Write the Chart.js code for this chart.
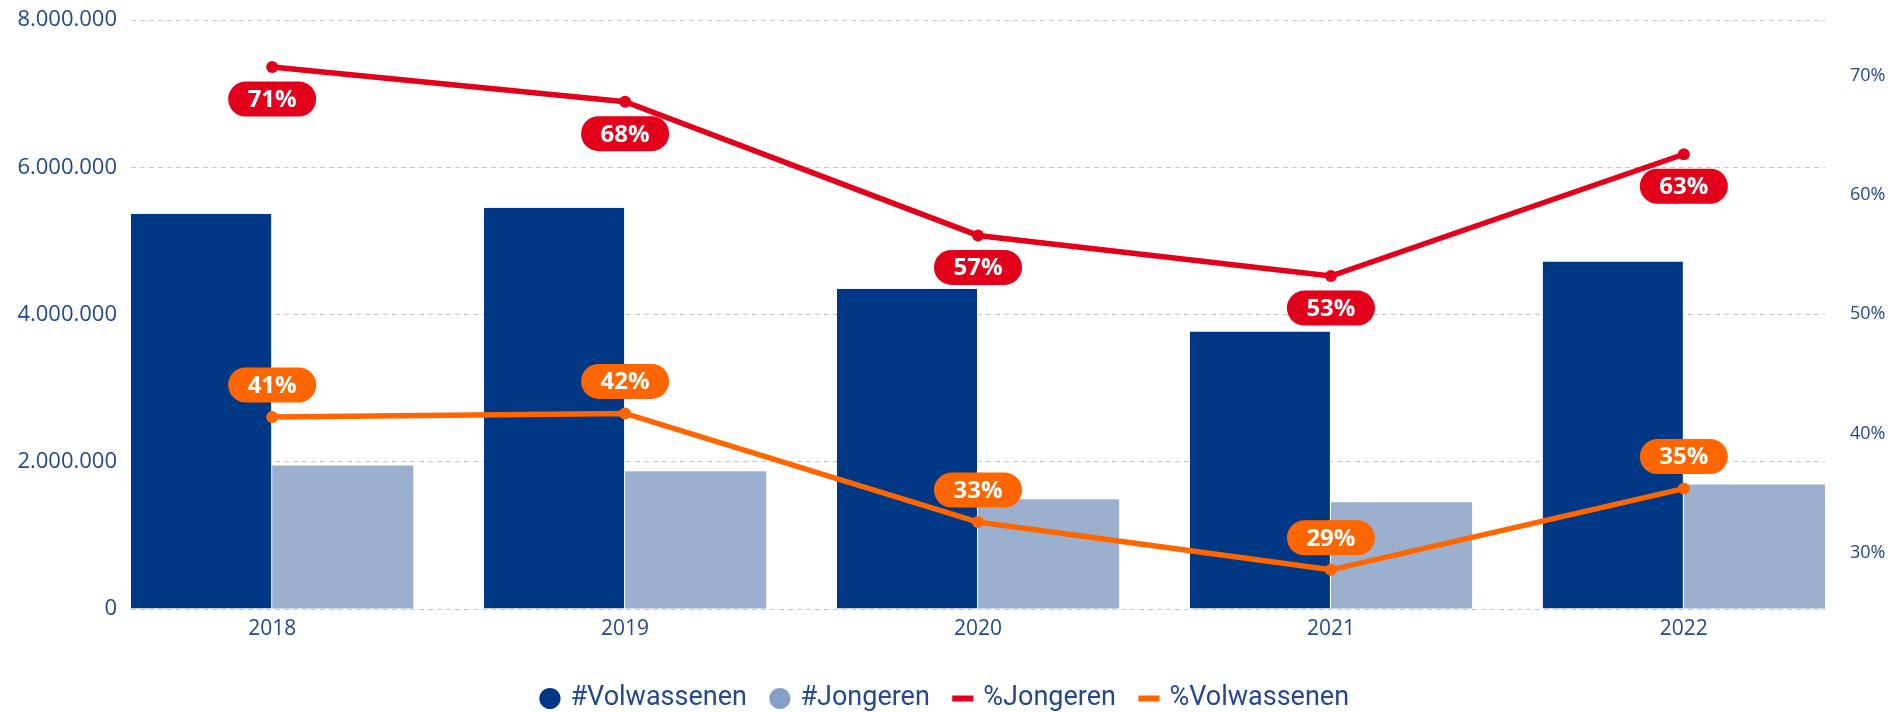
<!DOCTYPE html>
<html>
<head>
<meta charset="utf-8">
<title>Volwassenen en jongeren</title>
<script src="https://cdn.jsdelivr.net/npm/chart.js@4.4.0/dist/chart.umd.min.js"></script>
<style>
  html, body { margin: 0; padding: 0; background: #fff; }
  canvas { display: block; }
</style>
</head>
<body>
<canvas id="chart" width="1892" height="712"></canvas>
<script>
// data
var years = [2018, 2019, 2020, 2021, 2022];
var volwassenen = [5370000, 5450000, 4350000, 3770000, 4720000];
var jongeren = [1950000, 1870000, 1490000, 1450000, 1690000];
var pctJongeren = [70.7, 67.8, 56.6, 53.2, 63.4];
var pctVolwassenen = [41.4, 41.7, 32.6, 28.6, 35.4];
var leftTicks = [0, 2000000, 4000000, 6000000, 8000000];
var rightTicks = [30, 40, 50, 60, 70];

var axisColor = '#23488f';
var darkBlue = '#003886';
var lightBlue = '#9bb0cf';
var red = '#e2001a';
var orange = '#ff6600';
var legendColors = [darkBlue, '#86a0c8', red, orange];

function fmt(v) {
  return String(v).replace(/\B(?=(\d{3})+(?!\d))/g, '.');
}
function points(vals) {
  return years.map(function (y, i) { return { x: y, y: vals[i] }; });
}
function fixedTicks(list) {
  return function (scale) {
    scale.ticks = list.map(function (v) { return { value: v }; });
  };
}
// fixed axis width, and no extra room asked above/below the plot
function fixedWidth(w) {
  return function (s) {
    s.width = w;
    s.paddingTop = 0;
    s.paddingBottom = 0;
  };
}

// rounded labels drawn on the line points
var pillLabels = {
  id: 'pillLabels',
  afterDatasetsDraw: function (chart) {
    var c = chart.ctx;
    chart.data.datasets.forEach(function (ds, di) {
      if (ds.type !== 'line') return;
      var meta = chart.getDatasetMeta(di);
      meta.data.forEach(function (pt, i) {
        var txt = Math.round(ds.data[i].y) + '%';
        c.save();
        c.font = 'bold 24px "Open Sans"';
        var w = c.measureText(txt).width + 39;
        var h = 35, r = h / 2;
        var cx = pt.x, cy = pt.y + ds.labelShift;
        var x0 = cx - w / 2, y0 = cy - h / 2;
        c.beginPath();
        c.moveTo(x0 + r, y0);
        c.lineTo(x0 + w - r, y0);
        c.arc(x0 + w - r, cy, r, -Math.PI / 2, Math.PI / 2);
        c.lineTo(x0 + r, y0 + h);
        c.arc(x0 + r, cy, r, Math.PI / 2, Math.PI * 1.5);
        c.closePath();
        c.fillStyle = ds.borderColor;
        c.fill();
        c.fillStyle = '#ffffff';
        c.textAlign = 'center';
        c.textBaseline = 'middle';
        c.fillText(txt, cx, cy + 1);
        c.restore();
      });
    });
  }
};

var chart = new Chart(document.getElementById('chart'), {
  type: 'bar',
  data: {
    datasets: [
      {
        type: 'bar', label: '#Volwassenen', data: points(volwassenen),
        backgroundColor: darkBlue, borderColor: '#ffffff',
        borderWidth: { top: 0, left: 0, bottom: 0, right: 1 },
        yAxisID: 'y', order: 2
      },
      {
        type: 'bar', label: '#Jongeren', data: points(jongeren),
        backgroundColor: lightBlue, borderWidth: 0,
        yAxisID: 'y', order: 2
      },
      {
        type: 'line', label: '%Jongeren', data: points(pctJongeren),
        borderColor: red, backgroundColor: red, borderWidth: 5.5,
        pointRadius: 6, pointBorderWidth: 0, pointBackgroundColor: red,
        tension: 0, yAxisID: 'yRight', order: 1, labelShift: 32
      },
      {
        type: 'line', label: '%Volwassenen', data: points(pctVolwassenen),
        borderColor: orange, backgroundColor: orange, borderWidth: 5.5,
        pointRadius: 6, pointBorderWidth: 0, pointBackgroundColor: orange,
        tension: 0, yAxisID: 'yRight', order: 1, labelShift: -32
      }
    ]
  },
  options: {
    responsive: false,
    animation: false,
    datasets: { bar: { categoryPercentage: 0.8, barPercentage: 1 } },
    layout: { padding: { left: 0, right: 0, top: 20, bottom: -10 } },
    plugins: {
      tooltip: { enabled: false },
      legend: {
        position: 'bottom',
        labels: {
          usePointStyle: true,
          boxWidth: 14,
          boxHeight: 15,
          padding: 26,
          color: axisColor,
          font: { family: 'Roboto', size: 27 },
          generateLabels: function (chart) {
            return chart.data.datasets.map(function (ds, i) {
              var isLine = ds.type === 'line';
              return {
                text: ds.label,
                fillStyle: legendColors[i],
                strokeStyle: legendColors[i],
                lineWidth: isLine ? 6 : 0,
                pointStyle: isLine ? 'line' : 'circle',
                fontColor: axisColor,
                hidden: false,
                datasetIndex: i
              };
            });
          }
        }
      }
    },
    scales: {
      x: {
        type: 'linear', min: 2017.6, max: 2022.4, offset: false,
        grid: { display: false, drawTicks: false },
        border: { display: false },
        ticks: {
          color: axisColor, padding: 7,
          font: { family: 'Open Sans', size: 21 },
          callback: function (v) { return String(v); }
        },
        afterBuildTicks: fixedTicks(years),
        afterFit: function (s) { s.height = 50; }
      },
      y: {
        position: 'left', min: 0, max: 8000000,
        grid: { color: '#c8c8c8', lineWidth: 1, drawTicks: false },
        border: { display: false, dash: [5, 4] },
        ticks: {
          color: axisColor, padding: 14,
          font: { family: 'Open Sans', size: 22 },
          callback: function (v) { return fmt(v); }
        },
        afterBuildTicks: fixedTicks(leftTicks),
        afterFit: fixedWidth(131)
      },
      yRight: {
        position: 'right', min: 25.32, max: 74.64,
        grid: { display: false, drawTicks: false },
        border: { display: false },
        ticks: {
          color: axisColor, padding: 25,
          font: { family: 'Open Sans', size: 18 },
          callback: function (v) { return v + '%'; }
        },
        afterBuildTicks: fixedTicks(rightTicks),
        afterFit: fixedWidth(67)
      }
    }
  },
  plugins: [pillLabels]
});
</script>
</body>
</html>
